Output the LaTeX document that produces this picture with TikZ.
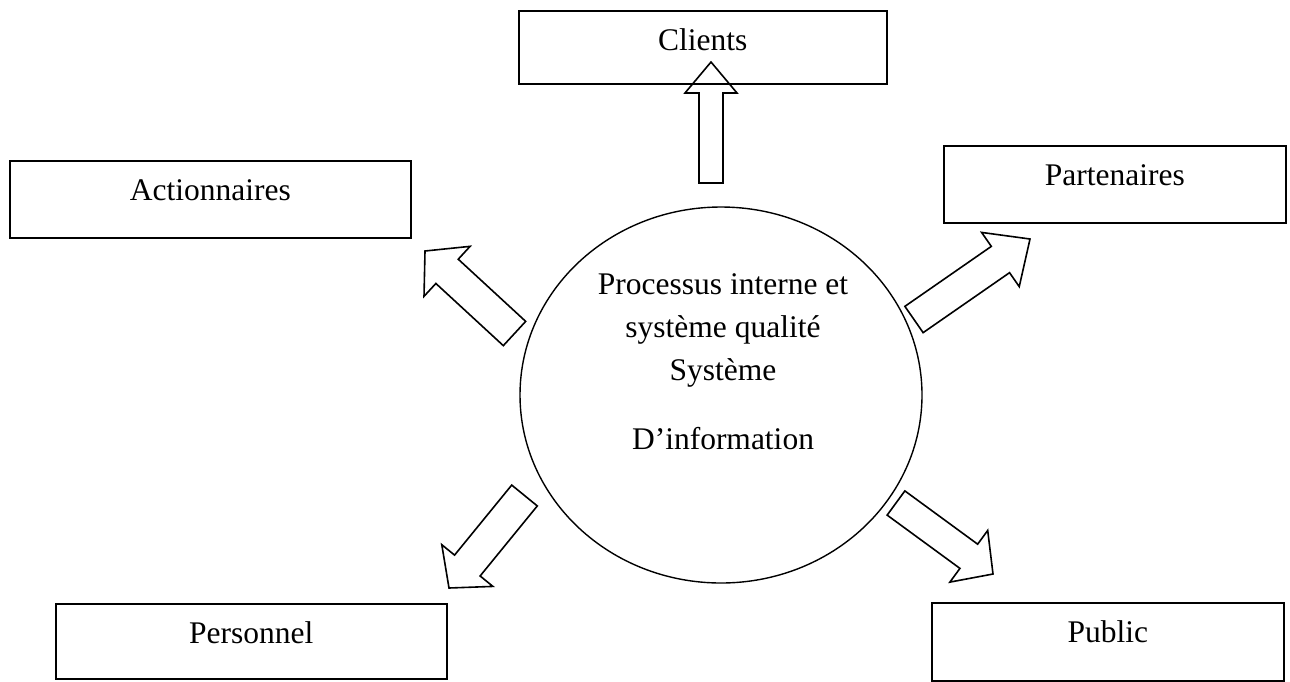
\documentclass[tikz,border=0pt]{standalone}
\usepackage{fontspec}
\setmainfont{Liberation Serif}
\usetikzlibrary{calc,shapes.geometric}
% block arrow: tail coord, tip coord, half shaft width, half head width, head length
\newcommand\blockarrow[5]{%
  \coordinate (ba-h) at ($(#2)!#5!(#1)$);
  \draw[flow] ($(#1)!#3!90:(#2)$) -- ($(ba-h)!#3!90:(#2)$) -- ($(ba-h)!#4!90:(#2)$)
    -- (#2) -- ($(ba-h)!#4!-90:(#2)$) -- ($(ba-h)!#3!-90:(#2)$) -- ($(#1)!#3!-90:(#2)$) -- cycle;}
\begin{document}
\begin{tikzpicture}[x=1pt,y=-1pt,
  txt/.style={font=\fontsize{31.5}{43}\selectfont},
  entity/.style={draw, line width=1.6pt, anchor=north west, inner xsep=0pt, inner ysep=0pt,
    text height=40pt, txt},
  flow/.style={draw, line width=1.6pt, line join=miter},
  core/.style={ellipse, draw, line width=1.4pt, inner sep=0pt}]
\useasboundingbox (0,0) rectangle (1290,681);

\node[entity, minimum width=368pt, text depth=33pt] (clients) at (518,10) {Clients};
\node[entity, minimum width=401pt, text depth=37pt] (actionnaires) at (9,160) {Actionnaires};
\node[entity, minimum width=342pt, text depth=37pt] (partenaires) at (943,145) {Partenaires};
\node[entity, minimum width=391pt, text depth=35pt] (personnel) at (55,603) {Personnel};
\node[entity, minimum width=352pt, text depth=38pt] (public) at (931,602) {Public};

\node[core, minimum width=402pt, minimum height=376pt] (sys) at (721,395) {};
\node[txt, align=center, anchor=center] (systext) at (723,362)
  {Processus interne et\\système qualité\\Système\\[26pt]D’information};

\coordinate (cliT) at (711,183);   \coordinate (cliH) at (711,62);
\coordinate (actT) at (514.5,333.5); \coordinate (actH) at (425,251);
\coordinate (parT) at (914,319.5); \coordinate (parH) at (1030,239);
\coordinate (perT) at (524.5,495.5); \coordinate (perH) at (449,588);
\coordinate (pubT) at (896,503);   \coordinate (pubH) at (993,574);

\blockarrow{cliT}{cliH}{12pt}{26pt}{31pt}
\blockarrow{actT}{actH}{16.5pt}{34pt}{30pt}
\blockarrow{parT}{parH}{16pt}{33pt}{36pt}
\blockarrow{perT}{perH}{16.5pt}{33pt}{29pt}
\blockarrow{pubT}{pubH}{15pt}{32pt}{30pt}
\end{tikzpicture}
\end{document}
